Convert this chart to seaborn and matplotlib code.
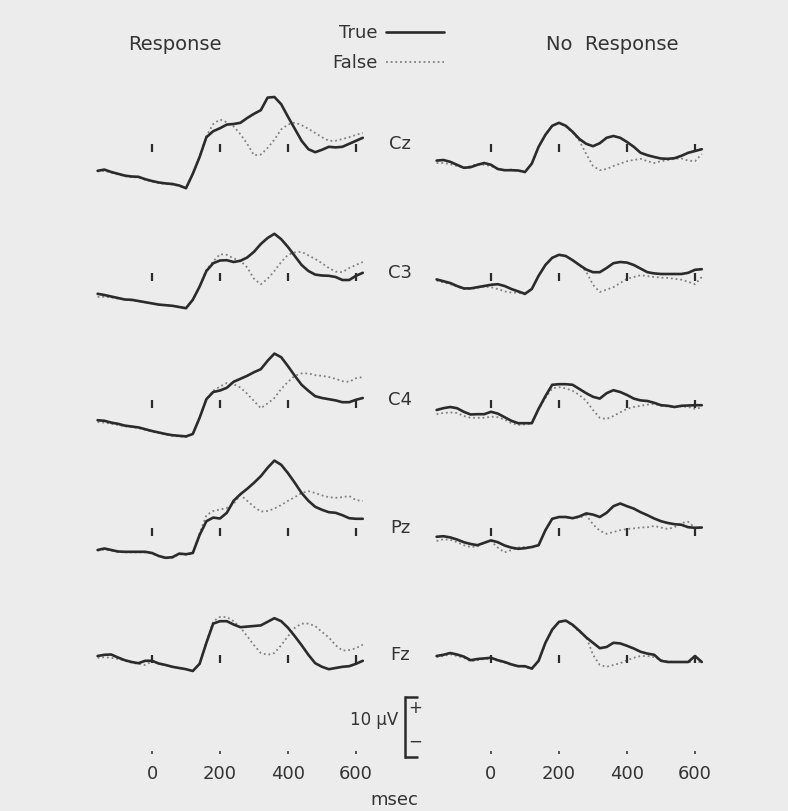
import numpy as np
import pandas as pd
import matplotlib
matplotlib.use('Agg')
import matplotlib.pyplot as plt
import matplotlib.transforms as mtransforms
from matplotlib.lines import Line2D
import seaborn as sns

# sample times (ms) shared by every trace
times = [-160, -140, -120, -100, -80, -60, -40, -20, 0, 20,
         40, 60, 80, 100, 120, 140, 160, 180, 200, 220,
         240, 260, 280, 300, 320, 340, 360, 380, 400, 420,
         440, 460, 480, 500, 520, 540, 560, 580, 600, 620]

channels = ['Cz', 'C3', 'C4', 'Pz', 'Fz']
marker_ms = [0, 200, 400, 600]
axis_ms = [0, 200, 400, 600]

# amplitudes in microvolts, positive up
# "Response" column
resp_cz_true = [-3.8, -3.6, -4.0, -4.3, -4.6, -4.75, -4.8, -5.2, -5.5, -5.75, -5.9, -6.0, -6.25, -6.7,
                -4.3, -1.5, 1.8, 2.8, 3.3, 3.9, 4.0, 4.2, 5.0, 5.7, 6.3, 8.4, 8.5, 7.3, 5.2, 3.2,
                1.2, -0.2, -0.7, -0.3, 0.2, 0.1, 0.2, 0.7, 1.2, 1.7]
resp_cz_false = [-3.9, -3.8, -4.1, -4.4, -4.7, -4.85, -4.9, -5.3, -5.6, -5.85, -6.0, -6.1, -6.3, -6.7,
                 -4.3, -1.5, 2.0, 4.0, 4.75, 4.3, 3.6, 2.3, 0.7, -1.2, -1.1, 0.0, 1.4, 3.1, 3.9, 4.25,
                 3.8, 3.2, 2.5, 1.8, 1.2, 1.2, 1.5, 1.8, 2.2, 2.5]
resp_c3_true = [-2.8, -3.0, -3.25, -3.5, -3.75, -3.8, -4.0, -4.2, -4.4, -4.6, -4.7, -4.8, -5.0, -5.2,
                -3.8, -1.6, 1.0, 2.3, 2.75, 2.8, 2.5, 2.7, 3.25, 4.2, 5.5, 6.5, 7.2, 6.3, 5.0, 3.5,
                2.0, 1.0, 0.4, 0.25, 0.2, 0.0, -0.5, -0.5, 0.2, 0.7]
resp_c3_false = [-3.3, -3.3, -3.4, -3.6, -3.8, -3.9, -4.0, -4.2, -4.4, -4.6, -4.7, -4.8, -5.0, -5.2,
                 -3.8, -1.6, 1.2, 2.6, 3.8, 3.7, 3.1, 2.7, 1.6, -0.3, -1.2, -0.3, 1.0, 2.5, 3.7, 4.1,
                 4.2, 3.6, 3.0, 2.3, 1.5, 0.9, 0.8, 1.5, 2.0, 2.5]
resp_c4_true = [-2.7, -2.8, -3.1, -3.3, -3.6, -3.75, -3.9, -4.2, -4.5, -4.75, -5.0, -5.2, -5.3, -5.4,
                -5.0, -2.3, 0.8, 2.0, 2.25, 2.7, 3.7, 4.2, 4.7, 5.3, 5.8, 7.2, 8.4, 7.8, 6.3, 4.7,
                3.2, 2.2, 1.3, 1.0, 0.8, 0.6, 0.3, 0.3, 0.7, 1.0]
resp_c4_false = [-3.0, -3.1, -3.3, -3.5, -3.7, -3.85, -4.0, -4.3, -4.6, -4.85, -5.1, -5.3, -5.4, -5.5,
                 -5.0, -2.3, 0.8, 2.2, 2.9, 3.5, 3.3, 2.75, 1.7, 0.5, -0.7, 0.1, 1.0, 2.5, 3.7, 4.7,
                 5.1, 5.1, 4.8, 4.7, 4.5, 4.2, 3.8, 3.7, 4.3, 4.5]
resp_pz_true = [-3.0, -2.75, -3.0, -3.25, -3.3, -3.3, -3.3, -3.3, -3.5, -4.0, -4.3, -4.2, -3.6, -3.7,
                -3.5, -0.5, 1.8, 2.4, 2.25, 3.2, 5.2, 6.3, 7.2, 8.2, 9.3, 10.7, 11.9, 11.2, 9.8, 8.2,
                6.5, 5.2, 4.2, 3.7, 3.3, 3.2, 2.8, 2.3, 2.2, 2.2]
resp_pz_false = [-3.1, -2.9, -3.1, -3.3, -3.4, -3.4, -3.4, -3.4, -3.6, -4.0, -4.4, -4.3, -3.7, -3.8,
                 -3.6, -0.2, 2.8, 3.5, 3.75, 4.0, 4.7, 6.2, 5.2, 4.2, 3.4, 3.5, 3.9, 4.5, 5.2, 5.8,
                 6.5, 6.8, 6.5, 6.1, 5.8, 5.7, 5.8, 6.0, 5.3, 5.2]
resp_fz_true = [0.5, 0.7, 0.75, 0.25, -0.2, -0.5, -0.7, -0.3, -0.3, -0.75, -1.0, -1.3, -1.5, -1.7,
                -2.0, -0.8, 2.7, 5.9, 6.3, 6.3, 5.75, 5.3, 5.4, 5.5, 5.6, 6.2, 6.8, 6.3, 5.2, 3.8,
                2.3, 0.7, -0.7, -1.3, -1.7, -1.5, -1.3, -1.2, -0.8, -0.3]
resp_fz_false = [0.2, 0.3, 0.2, 0.0, -0.3, -0.6, -0.8, -1.0, -0.4, -0.8, -1.0, -1.3, -1.5, -1.7,
                 -2.0, -0.8, 2.8, 6.3, 7.0, 7.0, 6.3, 5.25, 3.8, 2.3, 1.0, 0.7, 1.0, 2.3, 3.8, 5.2,
                 5.9, 5.9, 5.5, 4.5, 3.6, 2.3, 1.4, 1.5, 1.8, 2.4]

# "No Response" column
norsp_cz_true = [-2.1, -2.0, -2.3, -2.8, -3.3, -3.2, -2.8, -2.5, -2.8, -3.5, -3.7, -3.7, -3.75, -4.0,
                 -2.6, 0.2, 2.2, 3.7, 4.2, 3.7, 2.7, 1.5, 0.7, 0.3, 0.8, 1.7, 2.0, 1.7, 1.0, 0.2,
                 -0.8, -1.2, -1.5, -1.75, -1.8, -1.7, -1.3, -0.8, -0.5, -0.2]
norsp_cz_false = [-2.5, -2.5, -2.7, -3.0, -3.3, -3.0, -2.7, -2.8, -3.0, -3.5, -3.7, -3.6, -3.8, -4.0,
                  -2.6, 0.2, 2.2, 3.7, 4.2, 3.6, 2.6, 1.2, -1.0, -3.0, -3.7, -3.5, -3.0, -2.6, -2.2, -2.0,
                  -1.8, -2.2, -2.5, -2.2, -2.0, -1.8, -1.75, -2.1, -2.2, -1.0]
norsp_c3_true = [-0.4, -0.7, -1.0, -1.5, -1.9, -1.9, -1.7, -1.5, -1.3, -1.2, -1.5, -2.0, -2.4, -2.8,
                 -2.0, 0.2, 2.0, 3.2, 3.7, 3.5, 2.8, 2.0, 1.25, 0.8, 0.8, 1.5, 2.3, 2.5, 2.4, 2.0,
                 1.4, 0.8, 0.6, 0.5, 0.5, 0.5, 0.5, 0.7, 1.2, 1.3]
norsp_c3_false = [-0.6, -0.9, -1.2, -1.6, -2.0, -2.0, -1.8, -1.6, -1.7, -2.0, -2.4, -2.6, -2.6, -2.9,
                  -2.0, 0.2, 2.0, 3.2, 3.7, 3.5, 2.8, 2.0, 0.9, -1.3, -2.5, -2.1, -1.7, -1.0, -0.3, 0.0,
                  0.3, 0.15, 0.0, -0.1, -0.15, -0.3, -0.45, -0.8, -1.2, 0.0]
norsp_c4_true = [-1.0, -0.7, -0.5, -0.7, -1.3, -1.75, -1.7, -1.7, -1.3, -1.6, -2.2, -2.8, -3.2, -3.2,
                 -3.2, -0.8, 1.3, 3.2, 3.3, 3.3, 3.2, 2.5, 1.8, 1.2, 0.9, 1.8, 2.3, 2.0, 1.5, 0.9,
                 0.6, 0.5, 0.2, -0.2, -0.3, -0.5, -0.3, -0.25, -0.2, -0.2]
norsp_c4_false = [-1.7, -1.5, -1.4, -1.5, -2.0, -2.3, -2.3, -2.3, -2.1, -2.2, -2.6, -3.2, -3.5, -3.4,
                  -3.3, -0.9, 1.0, 2.6, 2.8, 2.6, 2.2, 1.5, 0.5, -1.0, -2.3, -2.5, -2.0, -1.4, -0.8, -0.5,
                  -0.3, -0.1, 0.0, -0.3, -0.4, -0.5, -0.4, -0.5, -0.8, -0.6]
norsp_pz_true = [-0.8, -0.7, -0.9, -1.25, -1.7, -2.0, -2.2, -1.8, -1.4, -1.7, -2.25, -2.6, -2.8, -2.7,
                 -2.5, -2.2, 0.3, 2.2, 2.5, 2.5, 2.3, 2.6, 3.1, 2.9, 2.5, 3.2, 4.3, 4.75, 4.3, 3.9,
                 3.3, 2.8, 2.25, 1.8, 1.5, 1.3, 1.2, 0.8, 0.7, 0.75]
norsp_pz_false = [-1.5, -1.2, -1.3, -1.7, -2.2, -2.5, -2.4, -1.8, -1.5, -2.6, -3.4, -3.0, -2.6, -2.5,
                  -2.6, -2.2, 0.3, 2.2, 2.5, 2.5, 2.3, 2.4, 2.8, 1.3, 0.2, -0.3, 0.0, 0.3, 0.5, 0.6,
                  0.75, 0.8, 1.0, 0.75, 0.5, 0.8, 1.5, 1.7, 0.7, 0.7]
norsp_fz_true = [0.5, 0.7, 1.0, 0.75, 0.4, -0.2, 0.0, 0.1, 0.2, -0.2, -0.5, -0.9, -1.2, -1.2,
                 -1.6, -0.3, 2.7, 4.9, 6.2, 6.4, 5.7, 4.7, 3.6, 2.7, 1.8, 2.0, 2.7, 2.6, 2.2, 1.75,
                 1.2, 0.9, 0.7, -0.3, -0.5, -0.5, -0.5, -0.5, 0.5, -0.5]
norsp_fz_false = [0.3, 0.5, 0.8, 0.5, 0.2, -0.4, -0.2, 0.0, 0.1, -0.3, -0.6, -1.0, -1.2, -1.3,
                  -1.7, -0.4, 2.6, 4.8, 6.1, 6.3, 5.6, 4.5, 3.7, 0.7, -1.0, -1.3, -1.0, -0.7, -0.2, 0.2,
                  0.5, 0.5, 0.3, -0.2, -0.4, -0.5, -0.5, -0.5, -0.5, -0.5]

resp_true = dict(zip(channels, [resp_cz_true, resp_c3_true, resp_c4_true, resp_pz_true, resp_fz_true]))
resp_false = dict(zip(channels, [resp_cz_false, resp_c3_false, resp_c4_false, resp_pz_false, resp_fz_false]))
norsp_true = dict(zip(channels, [norsp_cz_true, norsp_c3_true, norsp_c4_true, norsp_pz_true, norsp_fz_true]))
norsp_false = dict(zip(channels, [norsp_cz_false, norsp_c3_false, norsp_c4_false, norsp_pz_false, norsp_fz_false]))
columns = [(resp_true, resp_false), (norsp_true, norsp_false)]

# layout (pixels of the 788x811 canvas)
W, H = 788, 811
px_per_ms = 0.34
px_per_uv = 6.0
xlim = (-170, 640)
ylim = (-9, 13)
col_zero = [152, 491]
row_base = [148, 277, 404, 532, 659]

bg = '#ececec'
ink = '#2b2b2b'
dot_col = '#808080'
txt = '#333333'

sns.set_style('white', {'axes.facecolor': 'none', 'figure.facecolor': bg})
plt.rcParams['font.family'] = ['DejaVu Sans']
plt.rcParams['text.color'] = txt

fig = plt.figure(figsize=(W / 100, H / 100), dpi=100, facecolor=bg)


def rect(x0, y_top, w, h):
    return [x0 / W, 1 - (y_top + h) / H, w / W, h / H]


panel_w = (xlim[1] - xlim[0]) * px_per_ms
panel_h = (ylim[1] - ylim[0]) * px_per_uv

for r, ch in enumerate(channels):
    for c, (tr, fa) in enumerate(columns):
        left = col_zero[c] + xlim[0] * px_per_ms
        top = row_base[r] - ylim[1] * px_per_uv
        ax = fig.add_axes(rect(left, top, panel_w, panel_h))
        sns.lineplot(x=times, y=fa[ch], ax=ax, color=dot_col, lw=1.3,
                     linestyle=(0, (1, 1.6)), legend=False)
        sns.lineplot(x=times, y=tr[ch], ax=ax, color=ink, lw=1.9, legend=False)
        ax.vlines(marker_ms, -0.7, 0.7, color=ink, lw=1.6)
        ax.set_xlim(xlim)
        ax.set_ylim(ylim)
        ax.axis('off')
        if c == 0:
            trans = mtransforms.blended_transform_factory(ax.transAxes, ax.transData)
            ax.text(1.11, 0.7, ch, transform=trans, ha='center', va='center',
                    fontsize=13, color=txt, clip_on=False)

# time axis under each column
for c in range(2):
    left = col_zero[c] + xlim[0] * px_per_ms
    tax = fig.add_axes(rect(left, 750, panel_w, 0.5))
    tax.set_xlim(xlim)
    tax.set_xticks(axis_ms)
    tax.set_xticklabels([str(v) for v in axis_ms])
    tax.set_yticks([])
    for s in tax.spines.values():
        s.set_visible(False)
    tax.tick_params(axis='x', bottom=True, direction='out', length=2.5, width=1.4,
                    color='#555555', pad=8, labelsize=13, labelcolor=txt)

fig.text(394 / W, 1 - 800 / H, 'msec', ha='center', va='center', fontsize=13, color=txt)

# 10 microvolt calibration bracket
sax = fig.add_axes(rect(405, 697, 15, 60))
sax.set_ylim(0, 10)
sax.set_xlim(0, 1)
for name, s in sax.spines.items():
    s.set_visible(name == 'left')
sax.spines['left'].set_linewidth(1.8)
sax.spines['left'].set_color(ink)
sax.set_yticks([0, 10])
sax.set_yticklabels([])
sax.set_xticks([])
sax.tick_params(axis='y', left=True, direction='in', length=9, width=1.8, color=ink)
sax.text(0.65, 8.2, '+', ha='center', va='center', fontsize=12, color=txt)
sax.text(0.65, 2.6, '\u2212', ha='center', va='center', fontsize=12, color=txt)
sax.text(-0.45, 6.2, '10 \u00b5V', ha='right', va='center', fontsize=12, color=txt)

# column titles and legend
fig.text(175 / W, 1 - 45 / H, 'Response', ha='center', va='center', fontsize=14, color=txt)
fig.text(612 / W, 1 - 45 / H, 'No  Response', ha='center', va='center', fontsize=14, color=txt)

handles = [Line2D([], [], color=ink, lw=1.9),
           Line2D([], [], color=dot_col, lw=1.3, linestyle=(0, (1, 1.6)))]
fig.legend(handles, ['True', 'False'], loc='center', bbox_to_anchor=(388 / W, 1 - 48 / H),
           markerfirst=False, frameon=False, fontsize=13, handlelength=3.2,
           handletextpad=0.5, labelspacing=0.65, labelcolor=txt)

fig.savefig('out.png', dpi=100, facecolor=bg)
